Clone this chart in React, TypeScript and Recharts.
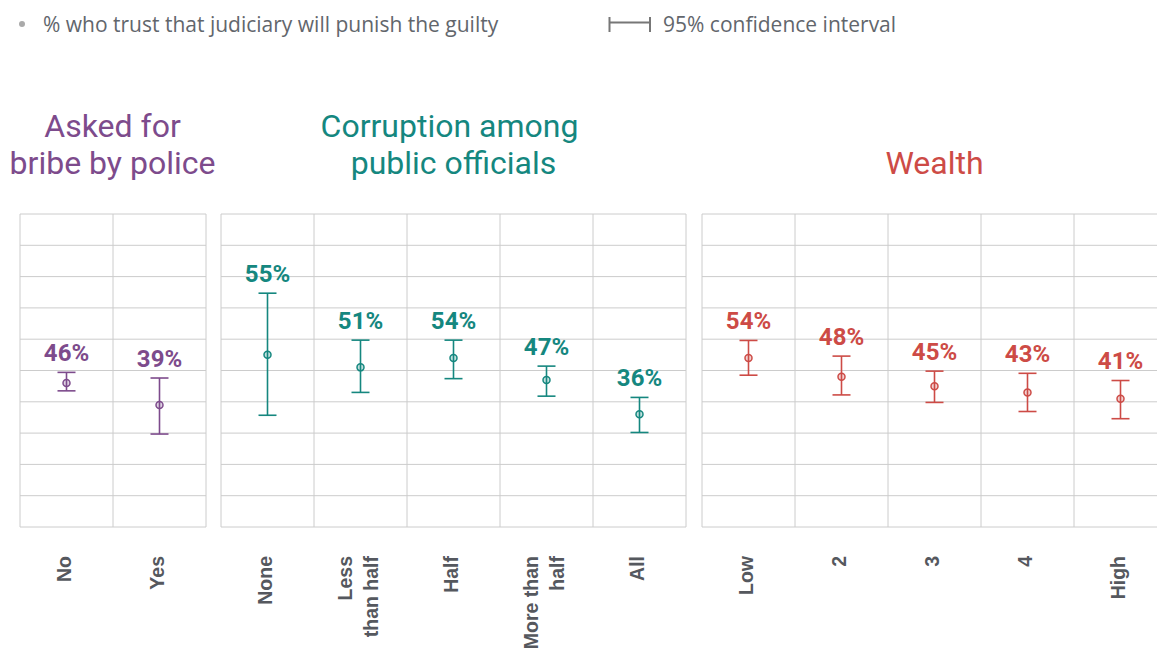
import React from "react";
import {
  ComposedChart,
  Scatter,
  ErrorBar,
  XAxis,
  YAxis,
  CartesianGrid,
  ReferenceLine,
} from "recharts";

// % who trust that judiciary will punish the guilty, with 95% CI bounds
const bribeCats = ["No", "Yes"];
const bribeTicks = [["No"], ["Yes"]];
const bribeVals = [46, 39];
const bribeLow = [43.5, 29.7];
const bribeHigh = [49.4, 47.6];

const corruptCats = ["None", "Less than half", "Half", "More than half", "All"];
const corruptTicks = [["None"], ["Less", "than half"], ["Half"], ["More than", "half"], ["All"]];
const corruptVals = [55, 51, 54, 47, 36];
const corruptLow = [35.7, 43.0, 47.4, 41.8, 30.2];
const corruptHigh = [74.7, 59.7, 59.7, 51.4, 41.4];

const wealthCats = ["Low", "2", "3", "4", "High"];
const wealthTicks = [["Low"], ["2"], ["3"], ["4"], ["High"]];
const wealthVals = [54, 48, 45, 43, 41];
const wealthLow = [48.5, 42.2, 39.8, 36.9, 34.6];
const wealthHigh = [59.6, 54.6, 49.8, 49.1, 46.8];

const yTicks = [0, 10, 20, 30, 40, 50, 60, 70, 80, 90, 100];

const PURPLE = "#7d4b8c";
const TEAL = "#15877f";
const RED = "#cd4b46";
const GRID = "#cccccc";
const COL_W = 93;

const makeTick = (lines: string[][]) => (props: any) => {
  const { x, y, index } = props;
  const ls = lines[index] || [];
  return (
    <g transform={`translate(${x},${y + 29}) rotate(-90)`}>
      <text
        textAnchor="end"
        fill="#55585e"
        fontSize={19.5}
        fontWeight={700}
        fontFamily="'Liberation Sans', Arial, sans-serif"
      >
        {ls.map((l, i) => (
          <tspan key={i} x={0} y={(i - (ls.length - 1) / 2) * 26 + 4}>
            {l}
          </tspan>
        ))}
      </text>
    </g>
  );
};

interface PanelProps {
  left: number;
  cats: string[];
  ticks: string[][];
  vals: number[];
  low: number[];
  high: number[];
  color: string;
}

function Panel({ left, cats, ticks, vals, low, high, color }: PanelProps) {
  const n = cats.length;
  const data = cats.map((c, i) => ({
    pos: i + 0.5,
    name: c,
    val: vals[i],
    hi: high[i],
    err: [vals[i] - low[i], high[i] - vals[i]],
    label: vals[i] + "%",
  }));
  const bounds = [...cats.map((_, i) => i), n];

  return (
    <div style={{ position: "absolute", left: left - 10, top: 200 }}>
      <ComposedChart
        width={n * COL_W + 20}
        height={450}
        data={data}
        margin={{ top: 14, right: 10, bottom: 0, left: 10 }}
      >
        <CartesianGrid vertical={false} stroke={GRID} />
        <XAxis
          type="number"
          dataKey="pos"
          domain={[0, n]}
          ticks={data.map((d) => d.pos)}
          interval={0}
          tickLine={false}
          axisLine={false}
          tickSize={0}
          tickMargin={0}
          height={123}
          tick={makeTick(ticks)}
        />
        <YAxis hide type="number" domain={[0, 100]} ticks={yTicks} />
        {bounds.map((b) => (
          <ReferenceLine key={b} x={b} stroke={GRID} ifOverflow="visible" />
        ))}
        <Scatter
          dataKey="val"
          isAnimationActive={false}
          shape={(p: any) => (
            <circle
              cx={p.cx}
              cy={p.cy}
              r={3.5}
              fill={color}
              fillOpacity={0.25}
              stroke={color}
              strokeWidth={1.5}
            />
          )}
        >
          <ErrorBar
            dataKey="err"
            direction="y"
            width={9}
            stroke={color}
            strokeWidth={1.6}
            isAnimationActive={false}
          />
        </Scatter>
        <Scatter
          dataKey="hi"
          isAnimationActive={false}
          shape={(p: any) => (
            <text
              x={p.cx}
              y={p.cy - 11.5}
              textAnchor="middle"
              fill={color}
              fontSize={24}
              fontWeight={700}
              fontFamily="Roboto, sans-serif"
            >
              {p.payload.label}
            </text>
          )}
        />
      </ComposedChart>
    </div>
  );
}

export default function App() {
  const titleFont = "Roboto, sans-serif";
  return (
    <div
      style={{
        position: "absolute",
        left: 0,
        top: 0,
        width: 1157,
        height: 650,
        overflow: "hidden",
        background: "#fff",
      }}
    >
      <svg width={1157} height={200} style={{ position: "absolute", left: 0, top: 0 }}>
        <circle cx={22} cy={24} r={3} fill="#aaaaaa" />
        <text x={43} y={32} fontSize={21} fill="#62666c" fontFamily="'Open Sans', sans-serif">
          % who trust that judiciary will punish the guilty
        </text>
        <g stroke="#777" strokeWidth={2}>
          <line x1={609.5} y1={17} x2={609.5} y2={32} />
          <line x1={650} y1={17} x2={650} y2={32} />
          <line x1={609.5} y1={22.5} x2={650} y2={22.5} />
        </g>
        <text x={663} y={32} fontSize={21} fill="#62666c" fontFamily="'Open Sans', sans-serif">
          95% confidence interval
        </text>

        <text x={112.5} textAnchor="middle" fontSize={32} fill={PURPLE} fontFamily={titleFont}>
          <tspan x={112.5} y={137}>Asked for</tspan>
          <tspan x={112.5} y={174}>bribe by police</tspan>
        </text>
        <text x={449.5} textAnchor="middle" fontSize={32} fill={TEAL} fontFamily={titleFont}>
          <tspan x={449.5} y={137}>Corruption among</tspan>
          <tspan x={453.5} y={174}>public officials</tspan>
        </text>
        <text x={934.5} y={174} textAnchor="middle" fontSize={32} fill={RED} fontFamily={titleFont}>
          Wealth
        </text>
      </svg>

      <Panel left={19.5} cats={bribeCats} ticks={bribeTicks} vals={bribeVals} low={bribeLow} high={bribeHigh} color={PURPLE} />
      <Panel left={221} cats={corruptCats} ticks={corruptTicks} vals={corruptVals} low={corruptLow} high={corruptHigh} color={TEAL} />
      <Panel left={702} cats={wealthCats} ticks={wealthTicks} vals={wealthVals} low={wealthLow} high={wealthHigh} color={RED} />
    </div>
  );
}
